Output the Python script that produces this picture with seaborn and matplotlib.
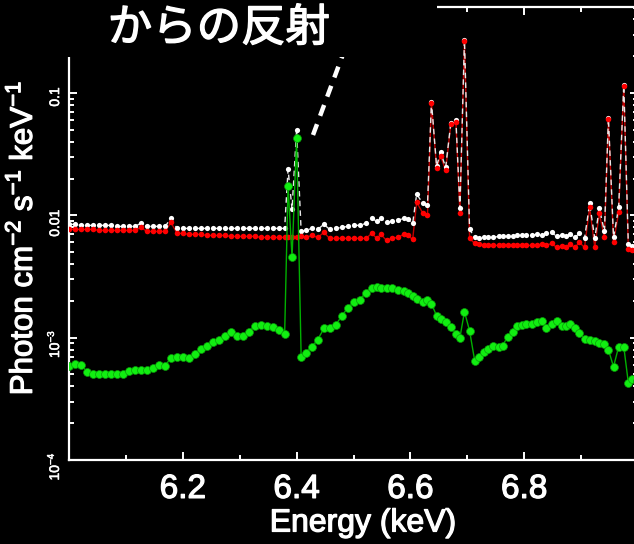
import matplotlib
matplotlib.use("Agg")
import matplotlib.pyplot as plt
import matplotlib.patheffects as pe
from matplotlib.patches import Rectangle
from matplotlib.lines import Line2D
from matplotlib.ticker import MultipleLocator, LogLocator, NullFormatter
import seaborn as sns
import pandas as pd

# Energy bins (keV)
energy = [6.000, 6.011, 6.021, 6.032, 6.042, 6.053, 6.063, 6.074, 6.084, 6.095,
          6.105, 6.116, 6.126, 6.137, 6.148, 6.158, 6.169, 6.179, 6.190, 6.200,
          6.211, 6.221, 6.232, 6.242, 6.253, 6.263, 6.274, 6.284, 6.295, 6.306,
          6.316, 6.327, 6.337, 6.348, 6.358, 6.369,
          6.379, 6.385, 6.392, 6.400, 6.408,
          6.416, 6.427, 6.437, 6.448, 6.458, 6.469, 6.479, 6.490, 6.500, 6.511,
          6.522, 6.532, 6.541, 6.548, 6.558, 6.567, 6.578, 6.588, 6.595, 6.604,
          6.611, 6.622, 6.630, 6.637, 6.646, 6.653, 6.662, 6.671, 6.680, 6.687,
          6.695, 6.704, 6.713, 6.720,
          6.729, 6.737, 6.746, 6.755, 6.762, 6.771, 6.780, 6.788, 6.797, 6.804,
          6.813, 6.822, 6.831, 6.839, 6.848, 6.857, 6.866, 6.873, 6.881, 6.889,
          6.897, 6.906,
          6.915, 6.924, 6.932, 6.941, 6.948, 6.957, 6.966, 6.975, 6.983, 6.990,
          6.999]

# Total model (white)
total_flux = [0.00844, 0.00844, 0.00828, 0.00828, 0.00828, 0.00828, 0.00828, 0.00828,
              0.00812, 0.00812, 0.00812, 0.00812, 0.0086, 0.00812, 0.00812, 0.00812,
              0.00812, 0.00945, 0.00782, 0.00782, 0.00782, 0.00782, 0.00782, 0.00782,
              0.00782, 0.00782, 0.00782, 0.00782, 0.00782, 0.00782, 0.00782, 0.00782,
              0.00782, 0.00782, 0.00782, 0.00782,
              0.00782, 0.0238, 0.0112, 0.0497, 0.00739,
              0.00753, 0.00782, 0.00768, 0.00844, 0.00768, 0.00782, 0.00797, 0.00812,
              0.00828, 0.00828, 0.0086, 0.00945, 0.00893, 0.00945, 0.00876, 0.00893,
              0.0091, 0.00945, 0.00927, 0.0086,
              0.0149, 0.0125, 0.0121, 0.085, 0.0252, 0.0328, 0.0247, 0.0568, 0.0601,
              0.0114, 0.272, 0.00768, 0.0066, 0.00648,
              0.0066, 0.0066, 0.0066, 0.00673, 0.00673, 0.00673, 0.00673, 0.00685,
              0.00685, 0.00685, 0.00685, 0.00699, 0.00685, 0.00712, 0.00725, 0.00673,
              0.00685, 0.00673, 0.00699, 0.0066, 0.00712, 0.00648,
              0.0125, 0.00648, 0.0114, 0.00739, 0.0625, 0.0066, 0.01163, 0.117,
              0.00578, 0.00557, 0.00568]

# Plasma emission component (red)
plasma_flux = [0.00768, 0.00768, 0.00768, 0.00768, 0.00768, 0.00753, 0.00753, 0.00753,
               0.00753, 0.00753, 0.00753, 0.00753, 0.00797, 0.00739, 0.00739, 0.00739,
               0.00739, 0.00876, 0.00712, 0.00712, 0.00699, 0.00699, 0.00699, 0.00685,
               0.00685, 0.00685, 0.00685, 0.00673, 0.00673, 0.00673, 0.00673, 0.00673,
               0.0066, 0.0066, 0.0066, 0.0066,
               0.0066, 0.0066, 0.0066, 0.0066, 0.00673,
               0.0066, 0.00685, 0.0066, 0.00725, 0.00648, 0.00648, 0.00648, 0.00648,
               0.00648, 0.00648, 0.00648, 0.00712, 0.00648, 0.00699, 0.00624, 0.00648,
               0.0066, 0.00699, 0.00685, 0.00636,
               0.0128, 0.0104, 0.0100, 0.0828, 0.0243, 0.0305, 0.0234, 0.0557, 0.0578,
               0.0104, 0.267, 0.00648, 0.00589, 0.00578,
               0.00568, 0.00568, 0.00568, 0.00568, 0.00568, 0.00568, 0.00568, 0.00568,
               0.00568, 0.00568, 0.00568, 0.00568, 0.00578, 0.00568, 0.00589, 0.00547,
               0.00557, 0.00547, 0.00578, 0.00547, 0.00601, 0.00547,
               0.01163, 0.00547, 0.01038, 0.0066, 0.0612, 0.00601, 0.01058, 0.114,
               0.00526, 0.00517, 0.00517]

# Reflection component (green)
reflection_flux = [0.000589, 0.000612, 0.000601, 0.000526, 0.000507, 0.000507, 0.000507,
                   0.000507, 0.000507, 0.000507, 0.000537, 0.000547, 0.000547, 0.000547,
                   0.000568, 0.000601, 0.000589, 0.000686, 0.000698, 0.000698, 0.000686,
                   0.000739, 0.000812, 0.00086, 0.000927, 0.000963, 0.00104, 0.00112,
                   0.00104, 0.00104, 0.00112, 0.00125, 0.00128, 0.00125, 0.00123, 0.00116,
                   0.00108, 0.0173, 0.00453, 0.0428, 0.000698,
                   0.000753, 0.000844, 0.000963, 0.00119, 0.00121, 0.00128, 0.00149,
                   0.00176, 0.00194, 0.00205, 0.00234, 0.00257, 0.00262, 0.00257,
                   0.00257, 0.00257, 0.00247, 0.00243, 0.00234, 0.00221,
                   0.00209, 0.00197, 0.00205, 0.0019, 0.00151, 0.00143, 0.00135, 0.00123,
                   0.00108, 0.001, 0.00163, 0.00114, 0.000648, 0.000698,
                   0.000768, 0.000812, 0.00086, 0.000844, 0.00086, 0.00102, 0.00112,
                   0.00125, 0.00128, 0.0013, 0.0013, 0.00135, 0.00138, 0.00121, 0.0013,
                   0.00138, 0.00125, 0.00125, 0.0013, 0.00119, 0.0011, 0.00098,
                   0.000963, 0.000945, 0.00091, 0.000893, 0.000797, 0.000578, 0.000844,
                   0.000844, 0.000428, 0.000461, 0.000444]

xtick_values = [6.0, 6.2, 6.4, 6.6, 6.8, 7.0]
xtick_labels = ["", "6.2", "6.4", "6.6", "6.8", ""]
ytick_values = [1e-4, 1e-3, 1e-2, 1e-1]
ytick_labels = [r"$10^{-4}$", r"$10^{-3}$", "0.01", "0.1"]

sns.set_theme(style="ticks", rc={
    "figure.facecolor": "black",
    "axes.facecolor": "black",
    "axes.edgecolor": "white",
    "axes.labelcolor": "white",
    "xtick.color": "white",
    "ytick.color": "white",
    "text.color": "white",
    "axes.grid": False,
})
plt.rcParams["font.family"] = ["Liberation Sans", "DejaVu Sans"]
plt.rcParams["mathtext.fontset"] = "custom"
plt.rcParams["mathtext.rm"] = "Liberation Sans"
plt.rcParams["mathtext.it"] = "Liberation Sans:italic"
plt.rcParams["mathtext.bf"] = "Liberation Sans:bold"
plt.rcParams["mathtext.default"] = "regular"

# slightly heavier strokes for the large labels
thicken = [pe.withStroke(linewidth=0.9, foreground="white")]

df = pd.DataFrame({
    "energy": energy,
    "total": total_flux,
    "plasma": plasma_flux,
    "reflection": reflection_flux,
})

fig = plt.figure(figsize=(6.34, 5.44), dpi=100, facecolor="black")
ax = fig.add_axes([69 / 634, 84 / 544, 569 / 634, 453 / 544])
ax.set_facecolor("black")
ax.set_yscale("log")

# connecting lines
sns.lineplot(data=df, x="energy", y="plasma", color="#c00000", lw=1.0,
             estimator=None, ax=ax, zorder=3)
sns.lineplot(data=df, x="energy", y="total", color="#e8e8e8", lw=1.0,
             dashes=False, estimator=None, ax=ax, zorder=4, linestyle=(0, (4, 3)))
sns.lineplot(data=df, x="energy", y="reflection", color="#00b000", lw=1.0,
             estimator=None, ax=ax, zorder=7)

# bin markers
sns.scatterplot(data=df, x="energy", y="total", color="white", s=14,
                linewidth=0, ax=ax, zorder=5)
sns.scatterplot(data=df, x="energy", y="plasma", color="#ff0000", s=16,
                linewidth=0, ax=ax, zorder=6)
sns.scatterplot(data=df, x="energy", y="reflection", color="#11ee11", s=32,
                edgecolor="#0a9a0a", linewidth=0.5, ax=ax, zorder=8)

ax.set_xlim(6.0, 7.0)
ax.set_ylim(1e-4, 0.505)

ax.set_xticks(xtick_values)
ax.set_xticklabels(xtick_labels)
ax.xaxis.set_minor_locator(MultipleLocator(0.1))
ax.set_yticks(ytick_values)
ax.set_yticklabels(ytick_labels)
ax.yaxis.set_minor_locator(LogLocator(base=10, subs=range(2, 10)))
ax.yaxis.set_minor_formatter(NullFormatter())

ax.tick_params(which="both", direction="in", top=True, right=True,
               colors="white", width=1.4)
ax.tick_params(which="major", length=6)
ax.tick_params(which="minor", length=3.5)
ax.tick_params(axis="x", labelsize=24, pad=10)
ax.tick_params(axis="y", labelsize=10, pad=5, labelrotation=90)
for lab in ax.get_xticklabels():
    lab.set_path_effects(thicken)
for lab in ax.get_yticklabels():
    lab.set_path_effects([pe.withStroke(linewidth=0.4, foreground="white")])

for side in ax.spines.values():
    side.set_color("white")
    side.set_linewidth(1.6)

ax.set_xlabel("Energy (keV)", fontsize=23, color="white", path_effects=thicken)
ax.xaxis.set_label_coords(0.517, -0.107)
ax.set_ylabel(r"Photon cm$^{-2}$ s$^{-1}$ keV$^{-1}$", fontsize=22.5,
              color="white", path_effects=thicken)
ax.yaxis.set_label_coords(-0.053, 0.49)

# dashed pointer toward the Fe K-alpha line
fig.add_artist(Line2D([313 / 634, 349 / 634], [1 - 135 / 544, 1 - 38 / 544],
                      transform=fig.transFigure, color="white", lw=3.2,
                      dashes=(2.6, 2.0), solid_capstyle="butt", zorder=20))

# caption panel
fig.add_artist(Rectangle((0, 1 - 57 / 544), 437 / 634, 57 / 544 + 0.01,
                         transform=fig.transFigure, facecolor="black",
                         edgecolor="none", zorder=30))
fig.text(219 / 634, 1 - 28 / 544, "からの反射", fontsize=32, color="white",
         ha="center", va="center",
         family=["Noto Sans CJK JP", "DejaVu Sans"], zorder=31,
         path_effects=[pe.withStroke(linewidth=1.0, foreground="white")])

fig.savefig("out.png", dpi=100, facecolor="black")
